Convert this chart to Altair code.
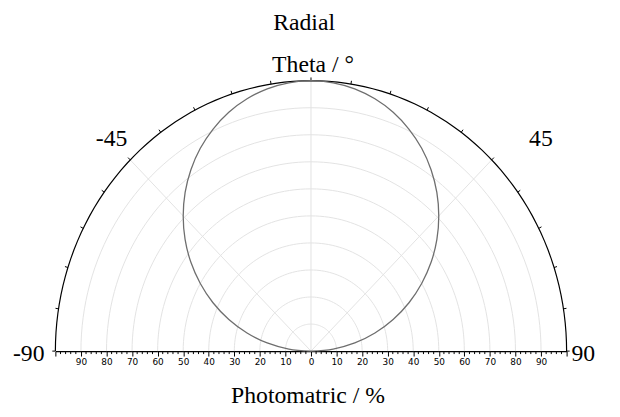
import altair as alt
import pandas as pd

# ---- data ----
curve_theta = [-90, -85, -80, -75, -70, -65, -60, -55, -50, -45, -40, -35, -30, -25, -20, -15, -10, -5, 0,
               5, 10, 15, 20, 25, 30, 35, 40, 45, 50, 55, 60, 65, 70, 75, 80, 85, 90]
curve_r = [0, 8.7, 17.4, 25.9, 34.2, 42.3, 50, 57.4, 64.3, 70.7, 76.6, 81.9, 86.6, 90.6, 94, 96.6, 98.5, 99.6, 100,
           99.6, 98.5, 96.6, 94, 90.6, 86.6, 81.9, 76.6, 70.7, 64.3, 57.4, 50, 42.3, 34.2, 25.9, 17.4, 8.7, 0]

grid_radii = [10, 20, 30, 40, 50, 60, 70, 80, 90]
outer_radius = [100]
arc_angles = list(range(-90, 91, 2))
spoke_angles = [-45, 0, 45]
arc_tick_angles = [-90, -81, -72, -63, -54, -45, -36, -27, -18, -9, 0, 9, 18, 27, 36, 45, 54, 63, 72, 81, 90]
axis_major = [-100, -90, -80, -70, -60, -50, -40, -30, -20, -10, 0, 10, 20, 30, 40, 50, 60, 70, 80, 90, 100]
axis_minor = [v for v in range(-100, 101, 2) if v % 10 != 0]

W, H = 518, 274
XS = alt.Scale(domain=[-100, 100], nice=False, zero=False)
YS = alt.Scale(domain=[0, 100], nice=False, zero=False)
XAXIS = alt.Axis(values=axis_major, title=None, grid=False,
                 labelExpr="abs(datum.value) == 100 ? '' : toString(abs(datum.value))",
                 domainColor="#000", domainWidth=1.2, tickColor="#000", tickSize=5, tickWidth=1,
                 labelFont="DejaVu Sans", labelFontSize=9, labelColor="#000",
                 labelPadding=2, labelAngle=0)
SERIF = "Liberation Serif"

def polar(chart):
    return chart.transform_calculate(
        px="datum.r * sin(datum.theta * PI / 180)",
        py="datum.r * cos(datum.theta * PI / 180)",
    )

grid_df = pd.DataFrame([{"r": r, "theta": t} for r in grid_radii for t in arc_angles])
outer_df = pd.DataFrame([{"r": r, "theta": t} for r in outer_radius for t in arc_angles])
curve_df = pd.DataFrame({"theta": curve_theta, "r": curve_r})
spoke_df = pd.DataFrame({"theta": spoke_angles, "r": [100] * len(spoke_angles)})
tick_df = pd.DataFrame({"theta": arc_tick_angles})
minor_df = pd.DataFrame({"v": axis_minor})

grid = polar(alt.Chart(grid_df).mark_line(color="#e3e3e3", strokeWidth=1)).encode(
    x=alt.X("px:Q", scale=XS, axis=XAXIS),
    y=alt.Y("py:Q", scale=YS, axis=None),
    detail="r:N",
    order="theta:Q",
)

spokes = alt.Chart(spoke_df).mark_rule(color="#e3e3e3", strokeWidth=1).transform_calculate(
    px="datum.r * sin(datum.theta * PI / 180)",
    py="datum.r * cos(datum.theta * PI / 180)",
    zx="0", zy="0",
).encode(
    x=alt.X("zx:Q", scale=XS, axis=XAXIS), y=alt.Y("zy:Q", scale=YS, axis=None),
    x2="px:Q", y2="py:Q",
)

outer = polar(alt.Chart(outer_df).mark_line(color="#000", strokeWidth=1.2)).encode(
    x=alt.X("px:Q", scale=XS, axis=XAXIS), y=alt.Y("py:Q", scale=YS, axis=None),
    order="theta:Q",
)

arc_ticks = alt.Chart(tick_df).mark_rule(color="#000", strokeWidth=1).transform_calculate(
    ax="100 * sin(datum.theta * PI / 180)",
    ay="100 * cos(datum.theta * PI / 180)",
    bx="101.2 * sin(datum.theta * PI / 180)",
    by="101.2 * cos(datum.theta * PI / 180)",
).encode(
    x=alt.X("ax:Q", scale=XS, axis=XAXIS), y=alt.Y("ay:Q", scale=YS, axis=None),
    x2="bx:Q", y2="by:Q",
)

curve = polar(alt.Chart(curve_df).mark_line(color="#6e6e6e", strokeWidth=1.3, interpolate="cardinal")).encode(
    x=alt.X("px:Q", scale=XS, axis=XAXIS), y=alt.Y("py:Q", scale=YS, axis=None),
    order="theta:Q",
)

minor = alt.Chart(minor_df).mark_rule(color="#000", strokeWidth=1).encode(
    x=alt.X("v:Q", scale=XS, axis=XAXIS),
    y=alt.value(H), y2=alt.value(H + 3),
)

def label(text, x, y, size=24, align="center", font=SERIF):
    return alt.Chart(pd.DataFrame({"t": [text]})).mark_text(
        font=font, fontSize=size, align=align, baseline="middle", color="#000"
    ).encode(text="t:N", x=alt.value(x), y=alt.value(y))

# page coords -> plot coords: subtract (56, 79)
texts = [
    label("Radial", 308 - 56, 21 - 79),
    label("Theta / °", 317 - 56, 63 - 79),
    label("-45", 113 - 56, 138 - 79),
    label("45", 548 - 56, 138 - 79),
    label("-90", 45 - 56, 356 - 79, align="right"),
    label("90", 579 - 56, 356 - 79, align="left"),
    label("Photomatric / %", 312 - 56, 399 - 79),
]

chart = alt.layer(grid, spokes, outer, arc_ticks, curve, minor, *texts).properties(
    width=W, height=H,
    autosize=alt.AutoSizeParams(type="none"),
    padding={"left": 48, "top": 71, "right": 46, "bottom": 56},
).configure(background="white").configure_view(stroke=None)

chart.save("out.html", embed_options={"renderer": "svg", "actions": False})
